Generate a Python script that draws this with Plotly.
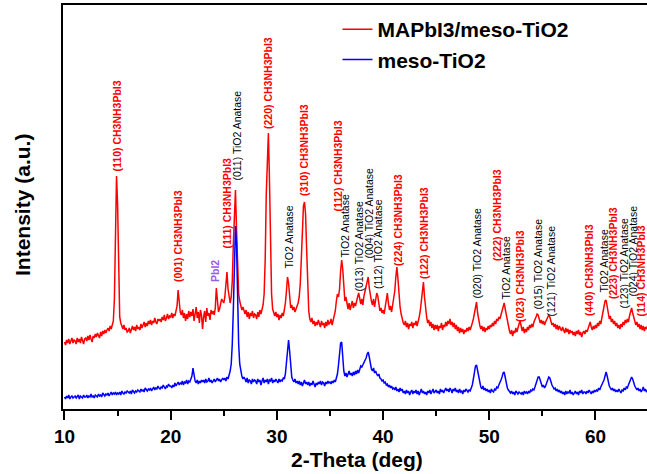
import numpy as np
import plotly.graph_objects as go

# XRD scan: 2-theta from 10.0 to 65.0 deg, 0.1 deg step
TWO_THETA_START = 10.0
TWO_THETA_STEP = 0.1

# MAPbI3 on mesoporous TiO2 (a.u., offset trace)
mapbi3_tio2 = [
    67, 64, 69, 66, 70, 65, 68, 71, 66, 69,
    68, 65, 71, 67, 70, 66, 72, 68, 65, 70,
    71, 68, 73, 69, 74, 70, 67, 73, 71, 75,
    72, 76, 74, 71, 77, 73, 78, 75, 79, 76,
    79, 81, 78, 83, 80, 85, 88, 110, 165, 233,
    205, 125, 92, 86, 83, 80, 84, 79, 81, 77,
    78, 81, 76, 80, 83, 79, 82, 78, 84, 80,
    82, 79, 85, 81, 84, 87, 82, 86, 83, 88,
    85, 89, 84, 88, 86, 91, 87, 85, 90, 88,
    90, 87, 92, 89, 94, 88, 91, 95, 90, 93,
    92, 96, 91, 95, 93, 97, 103, 119, 106, 97,
    94, 99, 91, 96, 88, 95, 90, 98, 92, 97,
    93, 100, 88, 96, 102, 91, 97, 86, 99, 94,
    80, 92, 98, 87, 101, 93, 96, 89, 99, 95,
    98, 94, 101, 121, 105, 97, 100, 104, 110, 108,
    106, 112, 125, 137, 120, 110, 106, 112, 128, 165,
    205, 219, 180, 135, 115, 108, 104, 99, 102, 97,
    95, 99, 92, 97, 90, 96, 93, 98, 91, 95,
    94, 90, 97, 92, 99, 95, 100, 104, 115, 150,
    215, 262, 276, 230, 160, 115, 100, 96, 93, 97,
    92, 95, 89, 94, 91, 96, 93, 99, 106, 118,
    132, 126, 109, 101, 104, 99, 102, 97, 100, 103,
    106, 112, 125, 150, 185, 203, 207, 195, 160, 120,
    98, 90, 87, 91, 85, 88, 83, 87, 84, 89,
    85, 82, 88, 84, 86, 81, 87, 83, 89, 85,
    86, 90, 84, 89, 93, 98, 108, 115, 112, 120,
    138, 149, 140, 118, 108, 112, 104, 100, 106, 99,
    104, 108, 101, 106, 103, 109, 112, 116, 108, 105,
    110, 104, 113, 118, 122, 128, 132, 121, 112, 108,
    104, 110, 102, 108, 116, 113, 103, 98, 101, 96,
    99, 95, 102, 108, 116, 106, 99, 103, 97, 104,
    110, 118, 132, 142, 130, 112, 102, 95, 89, 86,
    84, 88, 82, 86, 80, 85, 83, 87, 81, 86,
    84, 88, 83, 87, 92, 98, 110, 120, 127, 112,
    98, 92, 86, 89, 83, 87, 81, 85, 79, 84,
    80, 84, 78, 83, 81, 86, 79, 84, 82, 87,
    83, 88, 85, 90, 84, 87, 82, 86, 80, 84,
    78, 82, 76, 81, 77, 80, 75, 79, 77, 81,
    78, 82, 79, 84, 86, 90, 96, 104, 107, 96,
    88, 84, 80, 83, 78, 82, 77, 81, 79, 83,
    80, 84, 82, 86, 83, 88, 85, 90, 88, 92,
    90, 94, 98, 103, 106, 100, 94, 88, 82, 78,
    75, 79, 73, 78, 76, 81, 77, 82, 85, 88,
    83, 78, 82, 76, 80, 77, 82, 79, 84, 81,
    85, 82, 87, 89, 92, 95, 94, 90, 86, 89,
    85, 88, 84, 87, 89, 91, 94, 92, 87, 84,
    86, 82, 85, 80, 84, 79, 83, 81, 78, 82,
    79, 76, 81, 77, 80, 75, 79, 76, 78, 74,
    77, 73, 78, 75, 79, 74, 77, 72, 76, 78,
    75, 79, 77, 81, 84, 87, 82, 79, 83, 80,
    84, 81, 86, 83, 88, 85, 91, 96, 103, 108,
    109, 101, 94, 90, 93, 87, 90, 85, 88, 83,
    86, 81, 84, 80, 85, 82, 87, 84, 89, 86,
    90, 87, 93, 97, 101, 96, 91, 88, 84, 87,
    82, 85, 80, 84, 79, 83, 78, 82, 80, 83,
    81,
]

# bare mesoporous TiO2 film (a.u.)
meso_tio2 = [
    12, 10, 13, 11, 14, 10, 12, 13, 11, 12,
    13, 11, 12, 14, 10, 13, 12, 11, 14, 12,
    12, 14, 11, 13, 12, 15, 12, 13, 11, 14,
    13, 12, 15, 13, 14, 12, 16, 14, 13, 15,
    14, 16, 13, 15, 17, 14, 16, 15, 17, 14,
    16, 15, 17, 14, 18, 16, 15, 17, 16, 18,
    17, 16, 18, 15, 19, 17, 16, 18, 17, 19,
    18, 17, 20, 18, 19, 17, 21, 19, 18, 20,
    19, 21, 18, 20, 22, 19, 21, 20, 23, 21,
    20, 22, 21, 24, 22, 20, 23, 22, 25, 23,
    23, 21, 24, 22, 26, 23, 25, 27, 24, 26,
    25, 28, 24, 27, 26, 29, 25, 28, 27, 31,
    33, 41, 34, 28, 26, 29, 25, 28, 26, 29,
    27, 29, 26, 30, 27, 28, 31, 27, 29, 26,
    28, 30, 27, 29, 31, 28, 30, 27, 29, 31,
    29, 31, 28, 32, 30, 33, 38, 45, 65, 100,
    150, 183, 165, 110, 65, 45, 38, 33, 30, 32,
    30, 27, 31, 26, 29, 28, 25, 30, 27, 29,
    28, 25, 30, 27, 29, 24, 28, 31, 26, 29,
    27, 30, 25, 29, 28, 31, 26, 29, 27, 30,
    28, 26, 30, 27, 29, 28, 31, 30, 35, 45,
    60, 69, 58, 40, 32, 29, 27, 30, 26, 28,
    25, 28, 24, 27, 23, 26, 29, 25, 27, 24,
    27, 23, 26, 24, 28, 25, 22, 26, 24, 27,
    25, 28, 24, 27, 26, 23, 27, 25, 28, 26,
    27, 25, 28, 26, 29, 27, 31, 35, 44, 58,
    66, 67, 52, 38, 33, 36, 32, 35, 38, 34,
    36, 33, 37, 34, 38, 35, 39, 36, 40, 43,
    42, 44, 46, 48, 51, 55, 57, 52, 45, 40,
    38, 41, 36, 38, 35, 33, 35, 31, 30, 28,
    29, 26, 27, 24, 25, 22, 24, 21, 23, 20,
    21, 19, 22, 18, 20, 17, 21, 18, 20, 16,
    18, 15, 19, 16, 18, 14, 17, 19, 15, 18,
    16, 19, 15, 18, 14, 17, 20, 16, 18, 15,
    17, 14, 18, 16, 19, 15, 17, 20, 16, 18,
    19, 16, 18, 15, 20, 17, 19, 16, 18, 21,
    18, 20, 17, 21, 19, 16, 20, 18, 21, 17,
    19, 16, 20, 17, 18, 15, 19, 17, 20, 18,
    17, 19, 18, 21, 24, 30, 38, 43, 44, 38,
    30, 25, 22, 20, 23, 19, 21, 18, 20, 17,
    19, 16, 20, 18, 17, 20, 19, 22, 21, 24,
    26, 29, 32, 36, 37, 31, 25, 21, 19, 17,
    16, 18, 15, 17, 14, 18, 16, 15, 17, 16,
    15, 17, 14, 18, 16, 17, 15, 18, 16, 19,
    18, 20, 19, 22, 25, 29, 32, 32, 28, 24,
    22, 24, 21, 23, 26, 29, 32, 31, 27, 24,
    22, 20, 21, 18, 20, 17, 19, 16, 18, 15,
    17, 14, 18, 15, 17, 16, 19, 15, 17, 14,
    16, 18, 15, 17, 14, 18, 16, 19, 15, 17,
    17, 15, 18, 16, 19, 17, 15, 18, 16, 19,
    17, 19, 18, 21, 19, 22, 24, 26, 29, 33,
    37, 33, 27, 23, 21, 19, 21, 18, 20, 17,
    19, 17, 20, 18, 16, 19, 18, 21, 19, 22,
    21, 24, 27, 30, 32, 30, 26, 23, 21, 19,
    21, 18, 20, 17, 19, 22, 18, 20, 17, 19,
    20,
]

# peak assignments: label text, phase, 2-theta, label baseline intensity
peak_labels = ["(110) CH3NH3PbI3", "(001) CH3NH3PbI3", "PbI2", "(111) CH3NH3PbI3",
               "(011) TiO2 Anatase", "(220) CH3NH3PbI3", "TiO2 Anatase", "(310) CH3NH3PbI3",
               "(112) CH3NH3PbI3", "TiO2 Anatase", "(013) TiO2 Anatase", "(004) TiO2 Anatase",
               "(112) TiO2 Anatase", "(224) CH3NH3PbI3", "(122) CH3NH3PbI3", "(020) TiO2 Anatase",
               "(222) CH3NH3PbI3", "TiO2 Anatase", "(023) CH3NH3PbI3", "(015) TiO2 Anatase",
               "(121) TiO2 Anatase", "(440) CH3NH3PbI3", "TiO2 Anatase", "(223) CH3NH3PbI3",
               "(123) TiO2 Anatase", "(024) TiO2 Anatase", "(114) CH3NH3PbI3"]
peak_phase = ["pvk", "pvk", "pbi2", "pvk", "tio2", "pvk", "tio2", "pvk",
              "pvk", "tio2", "tio2", "tio2", "tio2", "pvk", "pvk", "tio2",
              "pvk", "tio2", "pvk", "tio2", "tio2", "pvk", "tio2", "pvk",
              "tio2", "tio2", "pvk"]
peak_pos = [14.94, 20.69, 24.17, 25.21, 26.2, 29.16, 31.05, 32.55,
            35.66, 36.41, 37.64, 38.58, 39.52, 41.4, 43.85, 48.75,
            50.73, 51.57, 52.89, 54.58, 55.81, 59.39, 60.8, 61.65,
            62.6, 63.53, 64.28]
peak_label_y = [237, 126, 126, 159, 227, 279, 139, 212,
                196, 151, 116, 149, 119, 142, 129, 109,
                147, 109, 86, 99, 92, 92, 116, 109,
                99, 112, 92]

PHASE_COLOR = {"pvk": "#ff0000", "tio2": "#000000", "pbi2": "#9a5ce6"}
PHASE_WEIGHT = {"pvk": "bold", "tio2": "normal", "pbi2": "bold"}

FONT = "Liberation Sans, Arial, sans-serif"

two_theta = np.round(TWO_THETA_START + TWO_THETA_STEP * np.arange(len(mapbi3_tio2)), 2)

fig = go.Figure()
fig.add_trace(go.Scatter(x=two_theta, y=mapbi3_tio2, mode="lines",
                         name="MAPbI3/meso-TiO2",
                         line=dict(color="#ff0000", width=1.5)))
fig.add_trace(go.Scatter(x=two_theta, y=meso_tio2, mode="lines",
                         name="meso-TiO2",
                         line=dict(color="#0000ff", width=1.5)))

annotations = []
for text, phase, pos, ly in zip(peak_labels, peak_phase, peak_pos, peak_label_y):
    annotations.append(dict(
        x=pos, y=ly, xref="x", yref="y", text=text, showarrow=False,
        textangle=-90, xanchor="center", yanchor="bottom", borderpad=0,
        font=dict(family=FONT, size=10.5, color=PHASE_COLOR[phase],
                  weight=PHASE_WEIGHT[phase]),
    ))

# axis titles
annotations.append(dict(
    x=-0.0685, y=0.505, xref="paper", yref="paper", text="Intensity (a.u.)",
    showarrow=False, textangle=-90, xanchor="center", yanchor="middle",
    font=dict(family=FONT, size=21, color="black", weight="bold"),
))
annotations.append(dict(
    x=0.503, y=-0.126, xref="paper", yref="paper", text="2-Theta (deg)",
    showarrow=False, xanchor="center", yanchor="middle",
    font=dict(family=FONT, size=21, color="black", weight="bold"),
))

fig.update_layout(
    width=647, height=474,
    margin=dict(l=63, r=0, t=5, b=65),
    paper_bgcolor="white", plot_bgcolor="white",
    showlegend=True,
    legend=dict(x=0.47, y=0.99, xanchor="left", yanchor="top",
                bgcolor="rgba(0,0,0,0)", borderwidth=0,
                font=dict(family=FONT, size=21, color="black", weight="bold"),
                tracegroupgap=0),
    annotations=annotations,
    xaxis=dict(range=[9.86, 64.85], showgrid=False, zeroline=False,
               showline=True, linecolor="black", linewidth=2, mirror=True,
               ticks="outside", ticklen=9, tickwidth=2, tickcolor="black",
               tick0=10, dtick=10,
               minor=dict(dtick=5, ticks="outside", ticklen=5, tickwidth=2,
                          tickcolor="black"),
               tickfont=dict(family=FONT, size=19, color="black", weight="bold")),
    yaxis=dict(range=[0, 404], showgrid=False, zeroline=False,
               showline=True, linecolor="black", linewidth=2,
               ticks="", showticklabels=False),
)

fig.write_html("out.html")
